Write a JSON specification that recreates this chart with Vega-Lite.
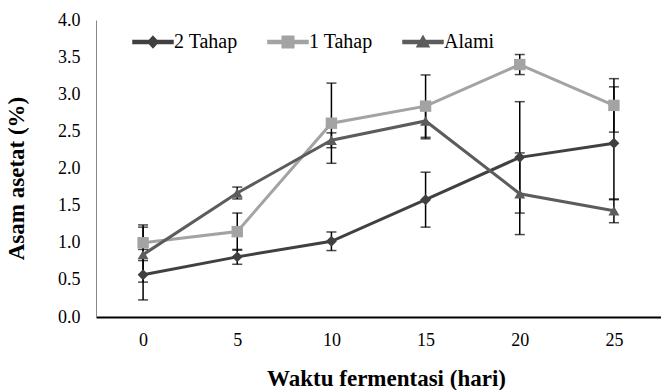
{
  "$schema": "https://vega.github.io/schema/vega-lite/v6.json",
  "width": 565,
  "height": 297,
  "autosize": "none",
  "padding": {"left": 96, "top": 20, "right": 0, "bottom": 73},
  "background": "white",
  "config": {"view": {"stroke": null}, "font": "Liberation Serif"},
  "data": {
    "values": [
      {"hari": 0, "seri": "2 Tahap", "asam": 0.57, "sd": 0.34},
      {"hari": 5, "seri": "2 Tahap", "asam": 0.81, "sd": 0.10},
      {"hari": 10, "seri": "2 Tahap", "asam": 1.02, "sd": 0.125},
      {"hari": 15, "seri": "2 Tahap", "asam": 1.58, "sd": 0.37},
      {"hari": 20, "seri": "2 Tahap", "asam": 2.15, "sd": 0.75},
      {"hari": 25, "seri": "2 Tahap", "asam": 2.34, "sd": 0.76},
      {"hari": 0, "seri": "1 Tahap", "asam": 1.00, "sd": 0.24},
      {"hari": 5, "seri": "1 Tahap", "asam": 1.15, "sd": 0.25},
      {"hari": 10, "seri": "1 Tahap", "asam": 2.61, "sd": 0.54},
      {"hari": 15, "seri": "1 Tahap", "asam": 2.84, "sd": 0.42},
      {"hari": 20, "seri": "1 Tahap", "asam": 3.40, "sd": 0.135},
      {"hari": 25, "seri": "1 Tahap", "asam": 2.85, "sd": 0.36},
      {"hari": 0, "seri": "Alami", "asam": 0.84, "sd": 0.37},
      {"hari": 5, "seri": "Alami", "asam": 1.67, "sd": 0.08},
      {"hari": 10, "seri": "Alami", "asam": 2.38, "sd": 0.10},
      {"hari": 15, "seri": "Alami", "asam": 2.64, "sd": 0.24},
      {"hari": 20, "seri": "Alami", "asam": 1.66, "sd": 0.55},
      {"hari": 25, "seri": "Alami", "asam": 1.43, "sd": 0.16}
    ]
  },
  "encoding": {
    "x": {
      "field": "hari",
      "type": "ordinal",
      "scale": {"type": "point", "padding": 0.5},
      "axis": {
        "title": "Waktu fermentasi (hari)",
        "labelAngle": 0,
        "ticks": false,
        "grid": false,
        "domainColor": "black",
        "domainWidth": 2,
        "labelFont": "Liberation Serif",
        "labelFontSize": 18,
        "labelColor": "black",
        "labelPadding": 14,
        "titleFont": "Liberation Serif",
        "titleFontSize": 23,
        "titleFontWeight": "bold",
        "titleColor": "black",
        "titleX": 290,
        "titleY": 50
      }
    },
    "y": {
      "field": "asam",
      "type": "quantitative",
      "scale": {"domain": [0, 4]},
      "axis": {
        "title": "Asam asetat (%)",
        "values": [0, 0.5, 1, 1.5, 2, 2.5, 3, 3.5, 4],
        "format": ".1f",
        "grid": false,
        "ticks": false,
        "domainColor": "#888888",
        "domainWidth": 1,
        "labelFont": "Liberation Serif",
        "labelFontSize": 18,
        "labelColor": "black",
        "labelPadding": 16,
        "titleFont": "Liberation Serif",
        "titleFontSize": 23,
        "titleFontWeight": "bold",
        "titleColor": "black",
        "titleX": -68,
        "titleY": 158
      }
    }
  },
  "layer": [
    {
      "mark": {"type": "line", "strokeWidth": 3},
      "encoding": {
        "color": {
          "field": "seri",
          "type": "nominal",
          "scale": {"domain": ["2 Tahap", "1 Tahap", "Alami"], "range": ["#404040", "#a3a3a3", "#5c5c5c"]},
          "legend": {
            "title": null,
            "orient": "none",
            "direction": "horizontal",
            "legendX": 36,
            "legendY": 1,
            "padding": 0,
            "columnPadding": 27,
            "symbolSize": 1600,
            "labelFont": "Liberation Serif",
            "labelFontSize": 20,
            "labelColor": "black",
            "labelOffset": 0,
            "encode": {
              "symbols": {
                "update": {
                  "shape": {"signal": "datum.value === '2 Tahap' ? 'M-1,-0.075L1,-0.075L1,0.075L-1,0.075Z M0,-0.28L0.26,0L0,0.28L-0.26,0Z' : datum.value === '1 Tahap' ? 'M-1,-0.075L1,-0.075L1,0.075L-1,0.075Z M-0.29,-0.29L0.29,-0.29L0.29,0.29L-0.29,0.29Z' : 'M-1,-0.075L1,-0.075L1,0.075L-1,0.075Z M0,-0.3L0.3,0.24L-0.3,0.24Z'"},
                  "fill": {"signal": "scale('color', datum.value)"},
                  "stroke": {"value": "transparent"},
                  "opacity": {"value": 1}
                }
              }
            }
          }
        }
      }
    },
    {
      "mark": {
        "type": "errorbar",
        "ticks": {"color": "black", "size": 10, "thickness": 1.5},
        "rule": {"color": "black", "strokeWidth": 1.5}
      },
      "encoding": {
        "yError": {"field": "sd"}
      }
    },
    {
      "transform": [{"filter": "datum.seri === '2 Tahap'"}],
      "mark": {"type": "point", "shape": "diamond", "filled": true, "size": 120, "opacity": 1},
      "encoding": {"color": {"field": "seri", "type": "nominal"}}
    },
    {
      "transform": [{"filter": "datum.seri === '1 Tahap'"}],
      "mark": {"type": "point", "shape": "square", "filled": true, "size": 130, "opacity": 1},
      "encoding": {"color": {"field": "seri", "type": "nominal"}}
    },
    {
      "transform": [{"filter": "datum.seri === 'Alami'"}],
      "mark": {"type": "point", "shape": "triangle-up", "filled": true, "size": 120, "opacity": 1},
      "encoding": {"color": {"field": "seri", "type": "nominal"}}
    }
  ]
}
